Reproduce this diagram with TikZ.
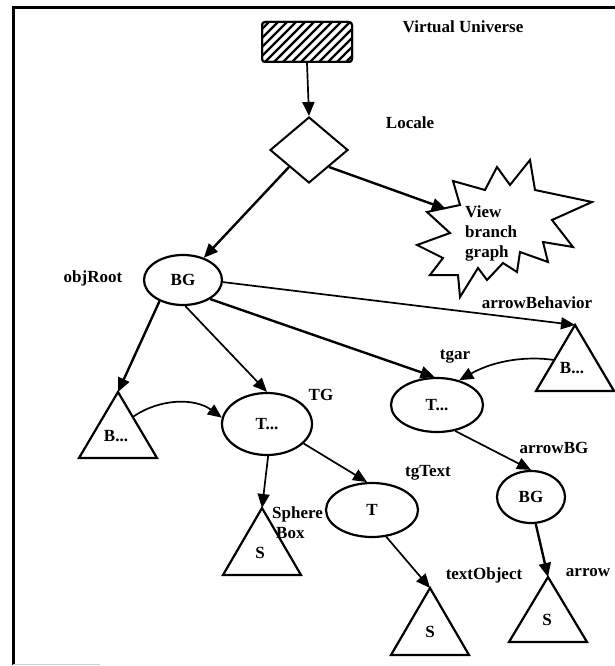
\documentclass[tikz,border=0pt]{standalone}
\usepackage{fontspec}
\setmainfont{Liberation Serif}
\usetikzlibrary{shapes.geometric,arrows.meta}
\begin{document}
\begin{tikzpicture}[x=1pt,y=-1pt,
  txt/.style={font=\fontsize{17}{20}\selectfont\bfseries, inner sep=0pt},
  ell/.style={draw, line width=2.2pt, ellipse, inner sep=0pt, font=\fontsize{17}{20}\selectfont\bfseries},
  con/.style={line width=1.7pt, -{Triangle[length=14pt,width=12pt]}},
  conb/.style={line width=2.4pt, -{Triangle[length=14pt,width=12pt]}},
  trishape/.style={line width=2.2pt, line join=miter}
]
\useasboundingbox (0,0) rectangle (615,666);
% frame
\draw[line width=3pt] (13,665) -- (13,8) -- (615,8);
\draw[gray!35, line width=1pt] (13,664.5) -- (100,664.5);

% Virtual universe hatched box
\node[draw, line width=2pt, rounded corners=3pt, minimum width=90pt, minimum height=40pt, inner sep=0pt] (vu) at (307,42) {};
\begin{scope}
  \clip[rounded corners=3pt] (262,22) rectangle (352,62);
  \foreach \k in {0,...,15} {
    \draw[line width=2.2pt] (220+\k*9,62) -- (260+\k*9,22);
  }
\end{scope}
\draw[line width=2pt, rounded corners=3pt] (262,22) rectangle (352,62);
\node[txt] (vulab) at (463,27) {Virtual Universe};

% Locale diamond
\node[draw, diamond, line width=2pt, minimum width=78pt, minimum height=66pt, inner sep=0pt] (loc) at (309,150) {};
\node[txt] (loclab) at (410,123) {Locale};
\draw[con] (vu.south) -- (loc.north);

% View branch graph star
\draw[line width=2pt, line join=miter] (427,212) -- (460,205) -- (453,181) -- (485,190) -- (497,167) -- (510,185) -- (530,160) -- (535,190) -- (592,202) -- (552,220) -- (573,247) -- (543,242) -- (548,262) -- (520,252) -- (517,272) -- (503,263) -- (487,280) -- (478,268) -- (460,297) -- (458,275) -- (430,275) -- (443,258) -- (417,245) -- (450,233) -- cycle;
\coordinate (starin) at (446,209);
\node[txt, align=left, anchor=west] (vbg) at (465,233) {View\\branch\\graph};
\draw[conb] (loc.south east) -- (starin);

% objRoot BG
\node[ell, minimum width=78pt, minimum height=50pt] (bg) at (183,280) {BG};
\node[txt] (objlab) at (93,278) {objRoot};
\draw[conb] (loc.south west) -- (bg);

% B... left triangle
\coordinate (b1) at (118,392);
\draw[trishape] (b1) -- ++(39,66) -- ++(-78,0) -- cycle;
\node[txt] (b1t) at (116,436) {B...};
\coordinate (b1e) at (132.8,417);

% TG
\node[ell, minimum width=90pt, minimum height=62pt] (tg) at (267,424) {T...};
\node[txt] (tglab) at (321,395) {TG};

% tgar
\node[ell, minimum width=92pt, minimum height=54pt] (tgar) at (437,405) {T...};
\node[txt] (tgarlab) at (455,357) {tgar};

% arrowBehavior triangle
\coordinate (ab) at (575,325);
\draw[trishape] (ab) -- ++(39,66) -- ++(-78,0) -- cycle;
\node[txt] (abt) at (572,368) {B...};
\coordinate (abe) at (554,360);
\node[txt] (ablab) at (537,303) {arrowBehavior};

% sphere triangle
\coordinate (sp) at (262,508);
\draw[trishape] (sp) -- ++(39,67) -- ++(-78,0) -- cycle;
\node[txt] (spt) at (260,553) {S};
\node[txt, align=left, anchor=north west] (splab) at (272,506) {Sphere\\\hspace*{4pt}Box};

% tgText
\node[ell, minimum width=92pt, minimum height=54pt] (tgt) at (372,510) {T};
\node[txt] (tgtlab) at (428,473) {tgText};

% textObject triangle
\coordinate (to) at (430,588);
\draw[trishape] (to) -- ++(39,67) -- ++(-78,0) -- cycle;
\node[txt] (tot) at (430,632) {S};
\node[txt] (tolab) at (484,575) {textObject};

% arrowBG
\node[ell, minimum width=68pt, minimum height=52pt] (abg) at (531,497) {BG};
\node[txt] (abglab) at (554,448) {arrowBG};

% arrow triangle
\coordinate (ar) at (548,577);
\draw[trishape] (ar) -- ++(39,65) -- ++(-78,0) -- cycle;
\node[txt] (art) at (547,620) {S};
\node[txt] (arlab) at (588,573) {arrow};

% connectors
\draw[conb] (bg.222) -- (b1);
\draw[con] (bg.275) -- (tg.north);
\draw[conb] (bg.-35) -- (tgar.95);
\draw[con] (bg.-3) -- (ab);
\draw[con] (b1e) .. controls (160,398) and (195,398) .. (tg.172);
\draw[con] (abe) .. controls (528,356) and (495,360) .. (tgar.48);
\draw[con] (tg.272) -- (sp);
\draw[con] (tg.-28) -- (tgt.100);
\draw[con] (tgt.-62) -- (to);
\draw[con] (tgar.-55) -- (abg.north);
\draw[conb] (abg.-80) -- (ar);
\end{tikzpicture}
\end{document}
